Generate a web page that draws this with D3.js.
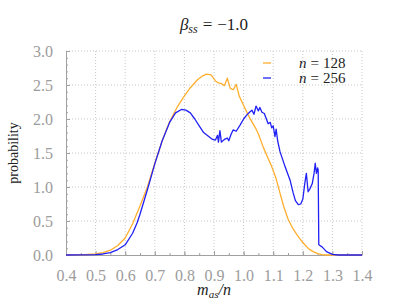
<!DOCTYPE html>
<html>
<head>
<meta charset="utf-8">
<script src="https://cdn.jsdelivr.net/npm/d3@7"></script>
<style>
    body { margin: 0; background: #fff; }
    svg text { font-family: "Liberation Serif", "DejaVu Serif", serif; }
</style>
</head>
<body>
<div id="chart"></div>
<script>
// data: [m_as/n, probability]
const seriesNames = ['128', '256'];
const seriesColors = ['#ffae2e', '#2121f5'];

const n128 = [
    [0.40, 0], [0.45, 0.003], [0.50, 0.015], [0.525, 0.035], [0.55, 0.07], [0.575, 0.14],
    [0.60, 0.25], [0.625, 0.46], [0.65, 0.72], [0.675, 1.0], [0.70, 1.35], [0.725, 1.68],
    [0.75, 1.96], [0.775, 2.17], [0.80, 2.34], [0.82, 2.46], [0.845, 2.58], [0.86, 2.63],
    [0.875, 2.66], [0.89, 2.65], [0.905, 2.56], [0.915, 2.53], [0.925, 2.52], [0.935, 2.49],
    [0.945, 2.6], [0.955, 2.45], [0.965, 2.43], [0.975, 2.51], [0.985, 2.34], [1.0, 2.2],
    [1.02, 2.02], [1.04, 1.87], [1.05, 1.78], [1.066, 1.59], [1.08, 1.45], [1.095, 1.3],
    [1.11, 1.12], [1.123, 0.91], [1.135, 0.72], [1.15, 0.53], [1.165, 0.4], [1.18, 0.3],
    [1.195, 0.21], [1.207, 0.15], [1.22, 0.09], [1.235, 0.05], [1.25, 0.02], [1.265, 0.006],
    [1.28, 0], [1.4, 0]
];

const n256 = [
    [0.40, 0], [0.45, 0.001], [0.50, 0.006], [0.525, 0.015], [0.55, 0.035], [0.575, 0.08],
    [0.60, 0.15], [0.625, 0.32], [0.64, 0.47], [0.65, 0.6], [0.675, 0.96], [0.70, 1.34],
    [0.725, 1.68], [0.75, 1.95], [0.77, 2.09], [0.79, 2.14], [0.805, 2.13], [0.82, 2.09],
    [0.835, 2.0], [0.85, 1.9], [0.865, 1.8], [0.88, 1.75], [0.895, 1.7], [0.905, 1.69],
    [0.912, 1.76], [0.915, 1.66], [0.92, 1.83], [0.925, 1.66], [0.935, 1.7], [0.945, 1.72],
    [0.95, 1.68], [0.958, 1.78], [0.965, 1.84], [0.975, 1.82], [0.988, 1.91], [1.0, 2.0],
    [1.011, 2.06], [1.02, 2.1], [1.028, 2.13], [1.035, 2.07], [1.042, 2.19], [1.05, 2.12],
    [1.055, 2.17], [1.062, 2.1], [1.07, 2.08], [1.083, 1.93], [1.09, 1.95], [1.095, 1.87],
    [1.1, 1.9], [1.106, 1.74], [1.11, 1.85], [1.115, 1.68], [1.123, 1.52], [1.14, 1.3],
    [1.157, 1.1], [1.167, 0.92], [1.175, 0.8], [1.185, 0.74], [1.193, 0.75], [1.2, 0.82],
    [1.207, 1.06], [1.212, 1.2], [1.218, 0.93], [1.225, 0.98], [1.232, 1.05], [1.238, 1.2],
    [1.242, 1.35], [1.246, 1.2], [1.25, 1.28], [1.252, 1.25], [1.254, 0.15], [1.265, 0.12],
    [1.28, 0.05], [1.3, 0.01], [1.32, 0], [1.4, 0]
];

const xTicks = [0.4, 0.5, 0.6, 0.7, 0.8, 0.9, 1.0, 1.1, 1.2, 1.3, 1.4];
const yTicks = [0.0, 0.5, 1.0, 1.5, 2.0, 2.5, 3.0];

const width = 393, height = 305;
const margin = {top: 51, right: 31, bottom: 50, left: 66};
const innerW = width - margin.left - margin.right;
const innerH = height - margin.top - margin.bottom;

const svg = d3.select('#chart').append('svg')
    .attr('width', width)
    .attr('height', height);

const x = d3.scaleLinear([0.4, 1.4], [0, innerW]);
const y = d3.scaleLinear([0, 3], [innerH, 0]);

const chart = svg.append('g')
    .attr('transform', `translate(${margin.left}, ${margin.top})`);

// dotted grid
chart.append('g').selectAll('line')
    .data(xTicks.slice(1))
    .join('line')
    .attr('x1', d => x(d)).attr('x2', d => x(d))
    .attr('y1', 0).attr('y2', innerH)
    .attr('stroke', '#c8c8c8').attr('stroke-dasharray', '1,2');
chart.append('g').selectAll('line')
    .data(yTicks.slice(1))
    .join('line')
    .attr('x1', 0).attr('x2', innerW)
    .attr('y1', d => y(d)).attr('y2', d => y(d))
    .attr('stroke', '#c8c8c8').attr('stroke-dasharray', '1,2');

// axes (ticks pointing inward, minor ticks in between)
const axisColor = '#a0a0a0';
chart.append('g').attr('transform', `translate(0, ${innerH})`)
    .call(d3.axisBottom(x).tickValues(d3.range(0.4, 1.401, 0.05)).tickSize(-2).tickFormat(''))
    .call(g => g.select('.domain').remove());
const axisX = chart.append('g').attr('transform', `translate(0, ${innerH})`)
    .call(d3.axisBottom(x).tickValues(xTicks).tickSize(-4).tickSizeOuter(0).tickPadding(15).tickFormat(d3.format('.1f')));

chart.append('g')
    .call(d3.axisLeft(y).tickValues(d3.range(0, 3.001, 0.1)).tickSize(-2).tickFormat(''))
    .call(g => g.select('.domain').remove());
const axisY = chart.append('g')
    .call(d3.axisLeft(y).tickValues(yTicks).tickSize(-4).tickSizeOuter(0).tickPadding(13).tickFormat(d3.format('.1f')));

svg.selectAll('.tick line, .domain').attr('stroke', axisColor);
svg.selectAll('.tick text')
    .attr('fill', '#9c9c9c')
    .attr('font-family', null)
    .style('font-family', '"Liberation Serif", serif')
    .style('font-size', '16px');
axisY.selectAll('.tick text').attr('dy', '0.35em');

// curves
const line = d3.line().x(d => x(d[0])).y(d => y(d[1]));
[n128, n256].forEach((s, i) => {
    chart.append('path')
        .datum(s)
        .attr('fill', 'none')
        .attr('stroke', seriesColors[i])
        .attr('stroke-width', 1.3)
        .attr('stroke-linejoin', 'round')
        .attr('d', line);
});

// legend
const legend = svg.append('g');
seriesNames.forEach((name, i) => {
    const ly = 63 + i * 15;
    legend.append('line')
        .attr('x1', 263).attr('x2', 271)
        .attr('y1', ly).attr('y2', ly)
        .attr('stroke', seriesColors[i]).attr('stroke-width', 1.3);
    const t = legend.append('text')
        .attr('x', 299).attr('y', ly + 5)
        .attr('fill', '#222')
        .style('font-size', '15px');
    t.append('tspan').style('font-style', 'italic').text('n');
    t.append('tspan').attr('dx', 4).text('=');
    t.append('tspan').attr('dx', 4).text(name);
});

// title
const title = svg.append('text')
    .attr('x', margin.left + innerW / 2).attr('y', 30)
    .attr('text-anchor', 'middle')
    .attr('fill', '#222')
    .style('font-size', '17px');
title.append('tspan').style('font-style', 'italic').text('β');
title.append('tspan').style('font-style', 'italic').style('font-size', '12px').attr('dy', 3).text('ss');
title.append('tspan').attr('dy', -3).attr('dx', 5).text('=');
title.append('tspan').attr('dx', 5).text('−1.0');

// axis labels
const labelX = svg.append('text')
    .attr('x', margin.left + innerW / 2).attr('y', 295)
    .attr('text-anchor', 'middle')
    .attr('fill', '#222')
    .style('font-size', '16px');
labelX.append('tspan').style('font-style', 'italic').text('m');
labelX.append('tspan').style('font-style', 'italic').style('font-size', '11px').attr('dy', 3).text('as');
labelX.append('tspan').style('font-style', 'italic').attr('dy', -3).text('/n');

svg.append('text')
    .attr('transform', `translate(18, ${margin.top + innerH / 2}) rotate(-90)`)
    .attr('text-anchor', 'middle')
    .attr('fill', '#222')
    .style('font-size', '14px')
    .text('probability');
</script>
</body>
</html>
